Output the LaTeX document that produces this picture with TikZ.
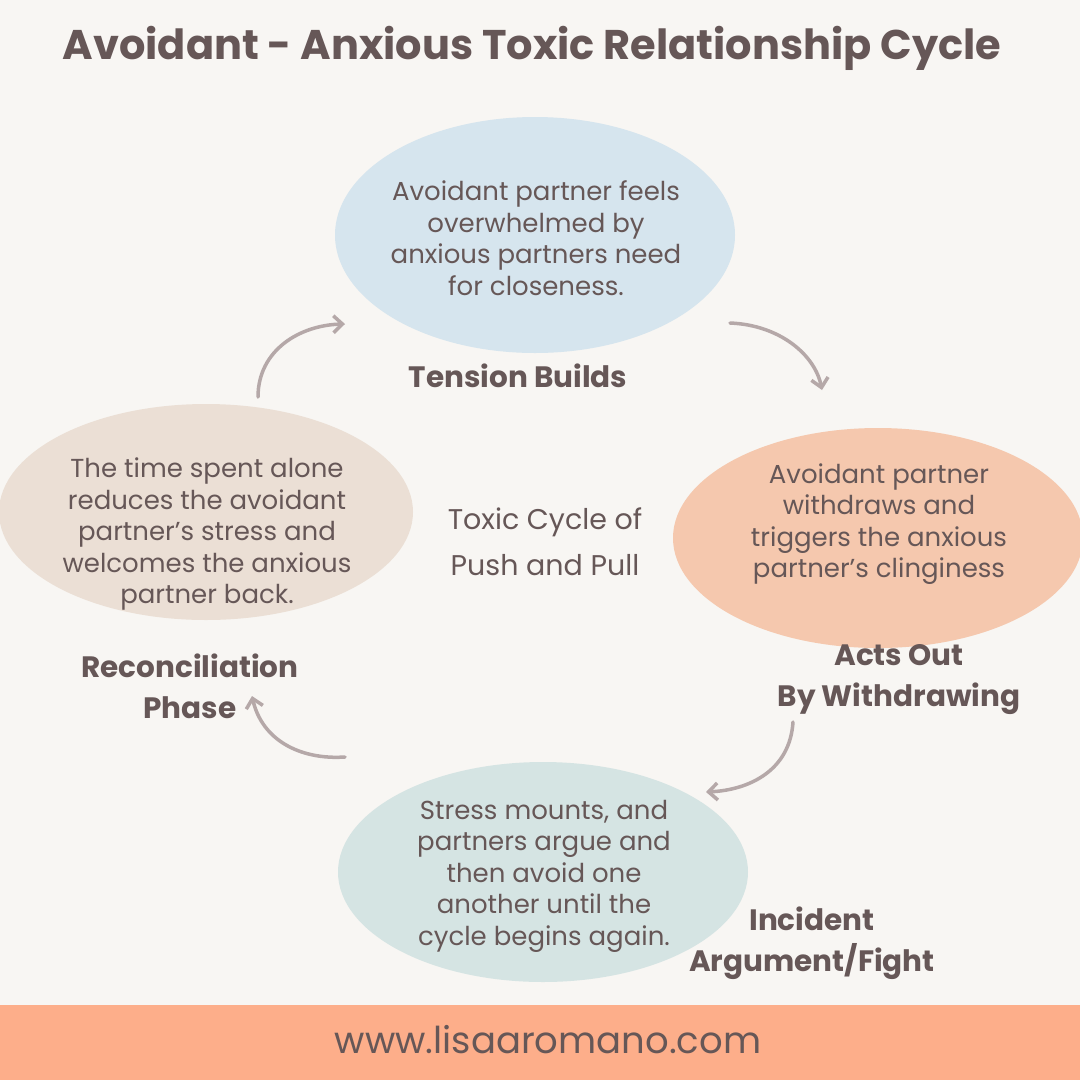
\documentclass[tikz,border=0pt]{standalone}
\usepackage{fontspec}
\setmainfont{Poppins}
\usetikzlibrary{arrows.meta}
\definecolor{bg}{HTML}{F8F6F3}
\definecolor{txt}{HTML}{665757}
\definecolor{ctop}{HTML}{D6E5EE}
\definecolor{cright}{HTML}{F5C8AE}
\definecolor{cleft}{HTML}{EBDFD5}
\definecolor{cbot}{HTML}{D5E4E3}
\definecolor{foot}{HTML}{FDAE8A}
\definecolor{arr}{HTML}{B5A8A8}
\tikzset{
 x=1pt,y=-1pt,
 body/.style={text=txt,align=center,inner sep=0pt,font=\fontsize{26}{31.5}\selectfont},
 lab/.style={text=txt,align=center,inner sep=0pt,font=\fontsize{29.5}{41}\selectfont\bfseries},
 cyc/.style={line width=3.5pt,draw=arr,-{Straight Barb[length=9pt,width=17pt,line width=3.5pt]},line cap=round}
}
\begin{document}
\begin{tikzpicture}
\fill[bg] (0,0) rectangle (1080,1080);
\useasboundingbox (0,0) rectangle (1080,1080);
\fill[foot] (0,1005) rectangle (1080,1080);
\node[text=txt,font=\fontsize{41.5}{48}\selectfont\bfseries] (title) at (532,48) {Avoidant - Anxious Toxic Relationship Cycle};
\node[text=txt,font=\fontsize{37}{44}\selectfont] (web) at (548,1040) {www.lisaaromano.com};
\fill[ctop] (535,235) ellipse [x radius=200,y radius=118];
\fill[cright] (878,538) ellipse [x radius=205,y radius=110];
\fill[cleft] (206,512) ellipse [x radius=207,y radius=108];
\fill[cbot] (543,872) ellipse [x radius=205,y radius=110];
\node[body] (t) at (536,238) {Avoidant partner feels\\overwhelmed by\\anxious partners need\\for closeness.};
\node[body] (r) at (879,524) {Avoidant partner\\withdraws and\\triggers the anxious\\partner's clinginess};
\node[body] (l) at (207,534) {The time spent alone\\reduces the avoidant\\partner's stress and\\welcomes the anxious\\partner back.};
\node[body] (b) at (544,876) {Stress mounts, and\\partners argue and\\then avoid one\\another until the\\cycle begins again.};
\node[text=txt,align=center,inner sep=0pt,font=\fontsize{28.5}{46}\selectfont] (c) at (545,542) {Toxic Cycle of\\Push and Pull};
\node[lab] (lt) at (518,376) {Tension Builds};
\node[lab] (lr) at (899,680) {Acts Out\\By Withdrawing};
\node[lab] (lb) at (812,943) {Incident\\Argument/Fight};
\node[lab] (ll) at (190,686) {Reconciliation\\Phase};
\coordinate (a1s) at (258,397); \coordinate (a1e) at (345,324);
\coordinate (a2s) at (730,323); \coordinate (a2e) at (822,390);
\coordinate (a3s) at (793,722); \coordinate (a3e) at (706,792);
\coordinate (a4s) at (345,757); \coordinate (a4e) at (252,696);
\draw[cyc] (a1s) .. controls (258,350) and (300,325) .. (a1e);
\draw[cyc] (a2s) .. controls (780,325) and (815,355) .. (a2e);
\draw[cyc] (a3s) .. controls (790,770) and (750,790) .. (a3e);
\draw[cyc] (a4s) .. controls (300,760) and (262,740) .. (a4e);
\end{tikzpicture}
\end{document}
